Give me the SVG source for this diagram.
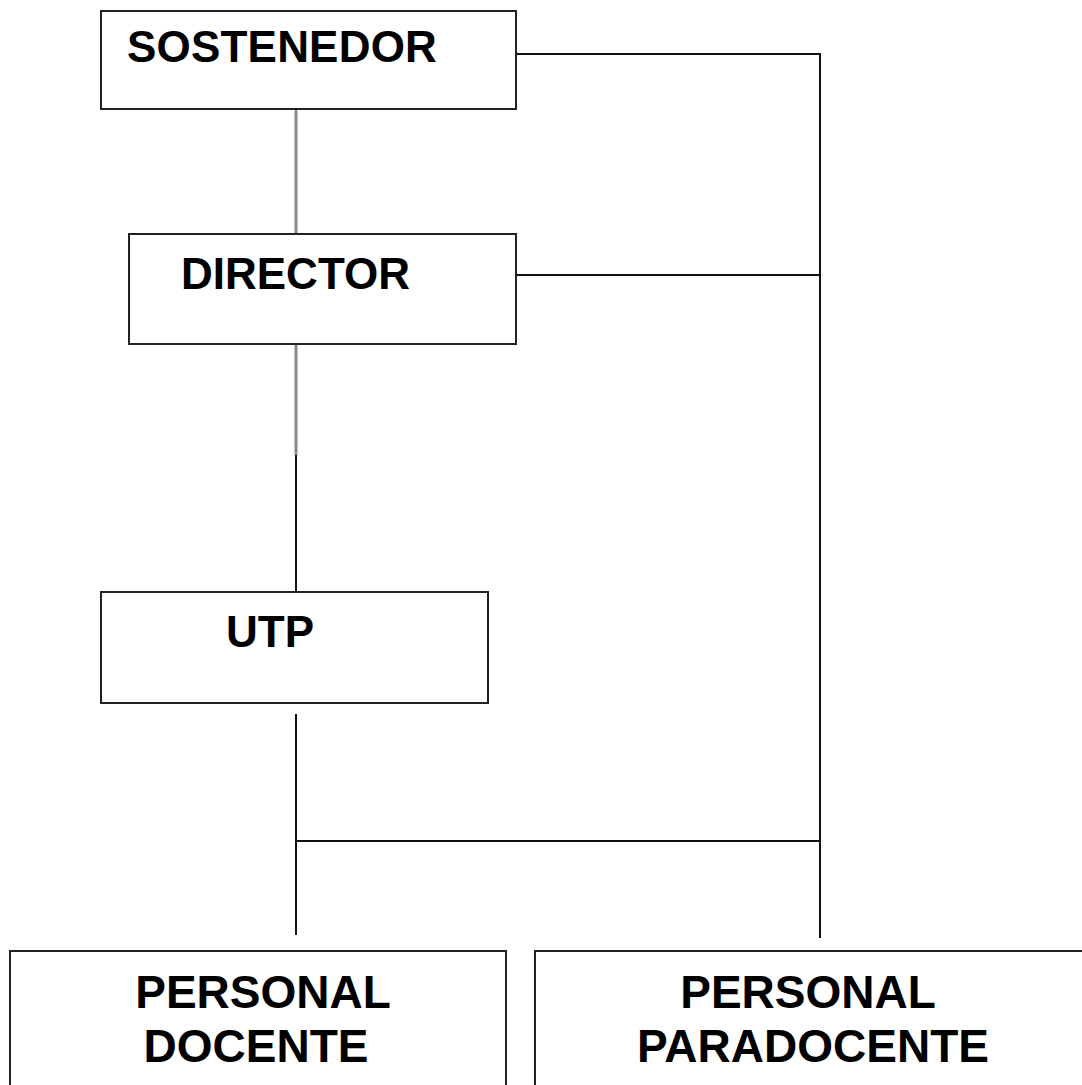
<svg xmlns="http://www.w3.org/2000/svg" width="1082" height="1085" viewBox="0 0 1082 1085">
<style>
.box{fill:#fff;stroke:#222;stroke-width:2}
.lbl{font-family:"Liberation Sans",Arial,sans-serif;font-weight:bold;font-size:44px;fill:#000}
.big{font-family:"Liberation Sans",Arial,sans-serif;font-weight:bold;font-size:46px;fill:#000;text-anchor:middle}
.ln{stroke:#111;stroke-width:2;fill:none}
.gr{stroke:#8a8a8a;stroke-width:3;fill:none}
</style>
<rect width="1082" height="1085" fill="#fff"/>
<g id="connectors">
<line class="gr" x1="296" y1="109" x2="296" y2="234"/>
<line class="gr" x1="296" y1="344" x2="296" y2="455"/>
<line class="ln" x1="296" y1="455" x2="296" y2="592"/>
<polyline class="ln" points="516,54 820,54 820,938"/>
<line class="ln" x1="516" y1="275" x2="820" y2="275"/>
<line class="ln" x1="296" y1="714" x2="296" y2="935"/>
<line class="ln" x1="296" y1="841" x2="820" y2="841"/>
</g>
<g id="sostenedor">
<rect class="box" x="101" y="11" width="415" height="98"/>
<text class="lbl" x="127" y="62" letter-spacing="0.2">SOSTENEDOR</text>
</g>
<g id="director">
<rect class="box" x="129" y="234" width="387" height="110"/>
<text class="lbl" x="181" y="289">DIRECTOR</text>
</g>
<g id="utp">
<rect class="box" x="101" y="592" width="387" height="111"/>
<text class="lbl" x="226" y="647">UTP</text>
</g>
<g id="personal-docente">
<rect class="box" x="10" y="951" width="496" height="140"/>
<text class="big" x="263" y="1008">PERSONAL</text>
<text class="big" x="256" y="1062">DOCENTE</text>
</g>
<g id="personal-paradocente">
<rect class="box" x="535" y="951" width="560" height="140"/>
<text class="big" x="808" y="1008">PERSONAL</text>
<text class="big" x="813" y="1062">PARADOCENTE</text>
</g>
</svg>
